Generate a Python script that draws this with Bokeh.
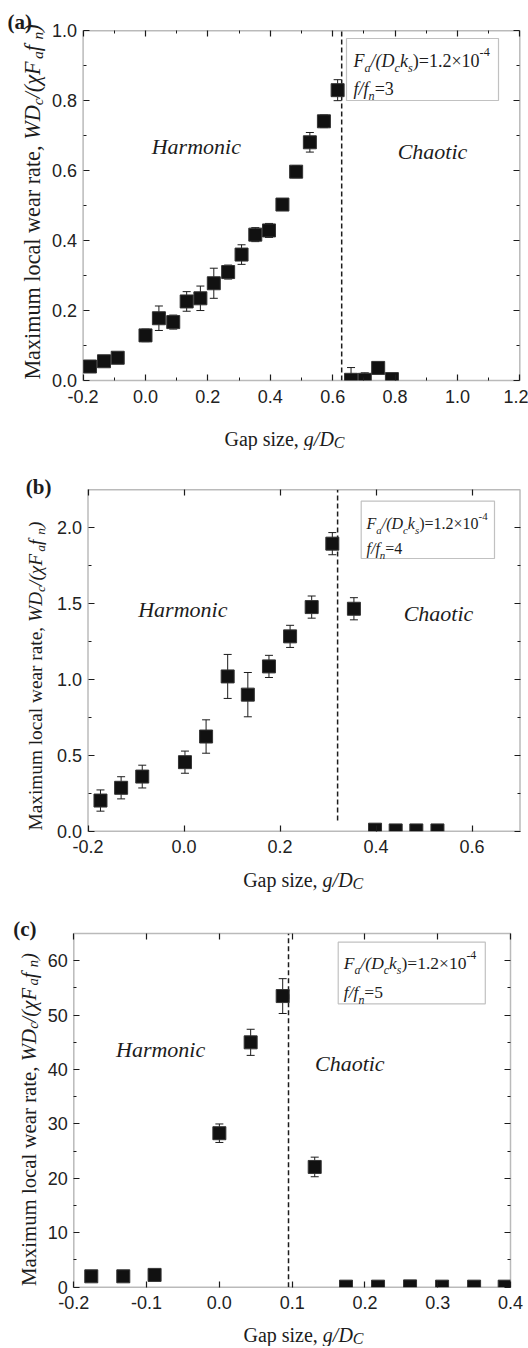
import math
from bokeh.plotting import figure
from bokeh.layouts import column
from bokeh.models import (ColumnDataSource, Whisker, TeeHead, Label, BoxAnnotation,
                          FixedTicker, PrintfTickFormatter, LinearAxis, CustomJSTickFormatter, Range1d)
from bokeh.embed import file_html
from bokeh.resources import INLINE

# ---------------- data ----------------
# panel (a): f/fn = 3
xa = [-0.178, -0.133, -0.089, 0.000, 0.043, 0.089, 0.132, 0.176, 0.219, 0.265, 0.308,
      0.352, 0.396, 0.439, 0.483, 0.527, 0.572, 0.616, 0.659, 0.703, 0.746, 0.790]
ya = [0.040, 0.055, 0.065, 0.129, 0.178, 0.167, 0.226, 0.235, 0.278, 0.310, 0.360,
      0.417, 0.429, 0.503, 0.597, 0.681, 0.741, 0.830, 0.002, 0.002, 0.036, 0.004]
ea = [0.005, 0.005, 0.005, 0.018, 0.035, 0.020, 0.028, 0.035, 0.043, 0.020, 0.028,
      0.020, 0.020, 0.005, 0.017, 0.028, 0.018, 0.030, 0.035, 0.020, 0.005, 0.015]
gap_a = 0.629

# panel (b): f/fn = 4
xb = [-0.174, -0.131, -0.087, 0.002, 0.046, 0.091, 0.133, 0.177, 0.221, 0.266, 0.309,
      0.354, 0.398, 0.441, 0.484, 0.528]
yb = [0.202, 0.286, 0.360, 0.455, 0.624, 1.020, 0.900, 1.086, 1.284, 1.477, 1.895,
      1.466, 0.010, 0.005, 0.005, 0.005]
eb = [0.070, 0.073, 0.075, 0.073, 0.110, 0.145, 0.146, 0.073, 0.073, 0.073, 0.073,
      0.073, 0.0, 0.0, 0.0, 0.0]
gap_b = 0.320

# panel (c): f/fn = 5
xc = [-0.176, -0.132, -0.089, 0.000, 0.043, 0.087, 0.131, 0.174, 0.218, 0.262, 0.306,
      0.350, 0.392]
yc = [2.0, 2.0, 2.26, 28.3, 45.0, 53.5, 22.1, 0.1, 0.1, 0.15, 0.1, 0.1, 0.1]
ec = [0.0, 0.0, 0.0, 1.7, 2.4, 3.2, 1.8, 0.0, 0.0, 0.0, 0.0, 0.0, 0.0]
gap_c = 0.095

# axis limits and ticks
xlim_a, ylim_a = (-0.2, 1.2), (0.0, 1.0)
xlim_b, ylim_b = (-0.2, 0.7), (0.0, 2.25)
xlim_c, ylim_c = (-0.2, 0.4), (0.0, 65.0)
xticks_a = [-0.2, 0.0, 0.2, 0.4, 0.6, 0.8, 1.0, 1.2]
xminor_a = [-0.1, 0.1, 0.3, 0.5, 0.7, 0.9, 1.1]
yticks_a = [0.0, 0.2, 0.4, 0.6, 0.8, 1.0]
yminor_a = [0.1, 0.3, 0.5, 0.7, 0.9]
xticks_b = [-0.2, 0.0, 0.2, 0.4, 0.6]
xminor_b = []
yticks_b = [0.0, 0.5, 1.0, 1.5, 2.0]
yminor_b = [0.25, 0.75, 1.25, 1.75]
xticks_c = [-0.2, -0.1, 0.0, 0.1, 0.2, 0.3, 0.4]
xminor_c = []
yticks_c = [0, 10, 20, 30, 40, 50, 60]
yminor_c = [5, 15, 25, 35, 45, 55]

ratios = ["3", "4", "5"]
SERIF = "Liberation Serif"
SANS = "Liberation Sans"
INK = "#1c1c1c"
W = 528

# approximate advance widths (1/1000 em) for Times-metric fonts
REG = {' ': 250, ',': 250, '.': 250, '/': 278, '(': 333, ')': 333, '=': 564, '\u00d7': 564,
       '-': 333, 'M': 889, 'G': 722, 'W': 944, 'D': 722, 'F': 556, 'a': 444, 'c': 444,
       'e': 444, 'i': 278, 'l': 278, 'm': 778, 'n': 500, 'o': 500, 'p': 500, 'r': 333,
       's': 389, 't': 278, 'u': 500, 'w': 722, 'x': 500, 'z': 444, 'k': 500, 'f': 333, 'g': 500}
ITA = {' ': 250, 'W': 833, 'D': 722, 'F': 611, 'C': 667, 'g': 500, '/': 278, '(': 333,
       ')': 333, 'f': 278, 'a': 500, 'c': 444, 'k': 444, 's': 389, 'n': 500, '\u03c7': 550,
       'H': 722, 'r': 389, 'm': 722, 'o': 500, 'i': 278, 'h': 500, 't': 278}


def tw(text, size, style):
    tab = ITA if "italic" in style else REG
    return sum(tab.get(ch, 500) for ch in text) * size / 1000.0


class Panel:
    def __init__(self, H, box, xlim, ylim):
        L, R, T, B = box
        self.x0, self.x1 = xlim
        self.y0, self.y1 = ylim
        self.sx = (R - L) / (self.x1 - self.x0)
        self.sy = (B - T) / (self.y1 - self.y0)
        xr = Range1d(self.x0 - L / self.sx, self.x1 + (W - R) / self.sx)
        yr = Range1d(self.y0 - (H - B) / self.sy, self.y1 + T / self.sy)
        self.p = figure(width=W, height=H, x_range=xr, y_range=yr,
                        output_backend="svg", toolbar_location=None,
                        min_border_left=0, min_border_right=0, min_border_top=0,
                        min_border_bottom=0, background_fill_color="white",
                        border_fill_color="white")
        self.p.grid.visible = False
        self.p.outline_line_color = None

    def dx(self, px):
        return self.x0 + px / self.sx

    def dy(self, py):
        return self.y1 - py / self.sy

    def label(self, text, rx, ry, size, style, angle=0.0):
        self.p.add_layout(Label(x=self.x0, y=self.y1, x_offset=rx, y_offset=-ry, text=text,
                                angle=angle, text_align="left", text_baseline="alphabetic",
                                text_font=SERIF, text_font_style=style,
                                text_font_size="%.1fpx" % size, text_color=INK))

    def rich(self, pieces, rx, ry, rotate=False, align="left"):
        total = sum(tw(t, s, st) for t, s, st, sh in pieces)
        pos = -total / 2.0 if align == "center" else 0.0
        for t, s, st, sh in pieces:
            if rotate:
                self.label(t, rx - sh, ry - pos, s, st, math.pi / 2)
            else:
                self.label(t, rx + pos, ry - sh, s, st)
            pos += tw(t, s, st)


def style_axis(ax, fmt):
    ax.axis_line_color = None
    ax.major_tick_in = 6
    ax.major_tick_out = 0
    ax.minor_tick_in = 3
    ax.minor_tick_out = 0
    ax.major_tick_line_color = INK
    ax.minor_tick_line_color = INK
    ax.major_tick_line_width = 1.2
    ax.minor_tick_line_width = 1.0
    if fmt is None:
        ax.formatter = CustomJSTickFormatter(code="return ''")
        ax.major_label_text_font_size = "1px"
        ax.major_label_standoff = 0
    else:
        ax.formatter = PrintfTickFormatter(format=fmt)
        ax.major_label_text_font = SANS
        ax.major_label_text_font_size = "18px"
        ax.major_label_text_color = "#222222"


def build(H, box, xlim, ylim, xt, xm, yt, ym, yfmt, xs, ys, es, gap, dash_from):
    P = Panel(H, box, xlim, ylim)
    p = P.p
    xax, yax = p.xaxis[0], p.yaxis[0]
    xax.ticker = FixedTicker(ticks=xt, minor_ticks=xm)
    yax.ticker = FixedTicker(ticks=yt, minor_ticks=ym)
    xax.fixed_location = P.y0
    yax.fixed_location = P.x0
    style_axis(xax, "%.1f")
    style_axis(yax, yfmt)
    xax.major_label_standoff = 9
    yax.major_label_standoff = 6
    top = LinearAxis(ticker=FixedTicker(ticks=xt, minor_ticks=xm), fixed_location=P.y1)
    right = LinearAxis(ticker=FixedTicker(ticks=yt, minor_ticks=ym), fixed_location=P.x1)
    style_axis(top, None)
    style_axis(right, None)
    p.add_layout(top, "above")
    p.add_layout(right, "right")

    lo = [y - e for y, e in zip(ys, es)]
    hi = [y + e for y, e in zip(ys, es)]
    src = ColumnDataSource(dict(x=xs, y=ys, lo=lo, hi=hi))
    p.add_layout(Whisker(source=src, base="x", upper="hi", lower="lo", dimension="height",
                         line_color=INK, line_width=1, level="underlay",
                         upper_head=TeeHead(size=8, line_color=INK, line_width=1),
                         lower_head=TeeHead(size=8, line_color=INK, line_width=1)))
    p.segment(x0=[gap], x1=[gap], y0=[dash_from], y1=[P.y1], line_color=INK,
              line_dash="5 3", line_width=1.5)
    p.scatter("x", "y", source=src, marker="square", size=13,
              fill_color="#111111", line_color="#333333", line_width=1)
    # white masks outside the plot box (clip marks at the box edges)
    xr, yr = p.x_range, p.y_range
    p.quad(left=[xr.start, P.x1, xr.start, xr.start], right=[xr.end, xr.end, P.x0, xr.end],
           bottom=[yr.start, yr.start, yr.start, P.y1], top=[P.y0, yr.end, yr.end, yr.end],
           fill_color="white", line_color=None)
    p.add_layout(BoxAnnotation(left=P.x0, right=P.x1, bottom=P.y0, top=P.y1,
                               fill_alpha=0.0, line_color=INK, line_width=1.5))
    return P


def ylabel(P, rx, ry, s):
    sub = 0.7 * s
    sh = -0.22 * s
    pieces = [("Maximum local wear rate, ", s, "normal", 0), ("WD", s, "italic", 0),
              ("c", sub, "italic", sh), ("/(\u03c7F", s, "italic", 0), ("a", sub, "italic", sh),
              (" f", s, "italic", 0), ("n", sub, "italic", sh), (")", s, "italic", 0)]
    P.rich(pieces, rx, ry, rotate=True, align="center")


def xlabel(P, rx, ry, s):
    pieces = [("Gap size, ", s, "normal", 0), ("g/D", s, "italic", 0),
              ("C", 0.8 * s, "italic", -0.18 * s)]
    P.rich(pieces, rx, ry, align="center")


def legend(P, box, rx, ry1, ry2, s, ratio):
    l, t, r, b = box
    P.p.add_layout(BoxAnnotation(left=P.dx(l), right=P.dx(r), top=P.dy(t), bottom=P.dy(b),
                                 fill_color="white", fill_alpha=1.0, line_color="#333333",
                                 line_width=1.2))
    sub = 0.68 * s
    sb = -0.42 * s
    sp = 0.45 * s
    l1 = [("F", s, "italic", 0), ("a", sub, "italic", sb), ("/(", s, "italic", 0),
          ("D", s, "italic", 0), ("c", sub, "italic", sb), ("k", s, "italic", 0),
          ("s", sub, "italic", sb), (")=1.2\u00d710", s, "normal", 0), ("-4", sub, "normal", sp)]
    l2 = [("f/f", s, "italic", 0), ("n", sub, "italic", sb), ("=" + ratio, s, "normal", 0)]
    P.rich(l1, rx, ry1)
    P.rich(l2, rx, ry2)


def regimes(P, hx, hy, cx, cy, s=22):
    P.rich([("Harmonic", s, "italic", 0)], hx, hy, align="center")
    P.rich([("Chaotic", s, "italic", 0)], cx, cy, align="center")


# ---------------- panel (a) ----------------
A = build(450, (82.6, 519.3, 30.2, 380.0), xlim_a, ylim_a, xticks_a, xminor_a, yticks_a,
          yminor_a, "%.1f", xa, ya, ea, gap_a, ylim_a[0])
A.rich([("(a)", 21, "bold", 0)], -75.6, -9.2)
ylabel(A, -50.6, 171.3, 22.2)
xlabel(A, 201.4, 407.8, 20)
legend(A, (263.4, 7.8, 415.4, 69.8), 270.4, 29.8, 57.8, 18, ratios[0])
regimes(A, 113.2, 115.5, 349.4, 120.5)

# ---------------- panel (b) ----------------
Bp = build(443, (87.5, 519.5, 39.3, 380.7), xlim_b, ylim_b, xticks_b, xminor_b, yticks_b,
           yminor_b, "%.1f", xb, yb, eb, gap_b, 0.07)
Bp.rich([("(b)", 21, "bold", 0)], -62.2, -2.6)
ylabel(Bp, -52.1, 186.2, 19.3)
xlabel(Bp, 215.2, 389.7, 20)
legend(Bp, (273.2, 11.4, 406.5, 68.7), 278.5, 33.7, 58.7, 16, ratios[1])
regimes(Bp, 94.8, 120.0, 350.5, 123.7)

# ---------------- panel (c) ----------------
Cp = build(453, (73.3, 510.0, 40.0, 393.7), xlim_c, ylim_c, xticks_c, xminor_c, yticks_c,
           yminor_c, "%d", xc, yc, ec, gap_c, ylim_c[0])
Cp.rich([("(c)", 21, "bold", 0)], -60.6, -5.0)
ylabel(Cp, -45.8, 186.0, 20.8)
xlabel(Cp, 229.7, 401.5, 20)
legend(Cp, (264.4, 8.7, 411.5, 70.3), 270.0, 29.5, 58.7, 17.5, ratios[2])
regimes(Cp, 86.8, 116.3, 276.0, 129.7)

layout = column(A.p, Bp.p, Cp.p)
open("out.html", "w").write(file_html(layout, INLINE))
